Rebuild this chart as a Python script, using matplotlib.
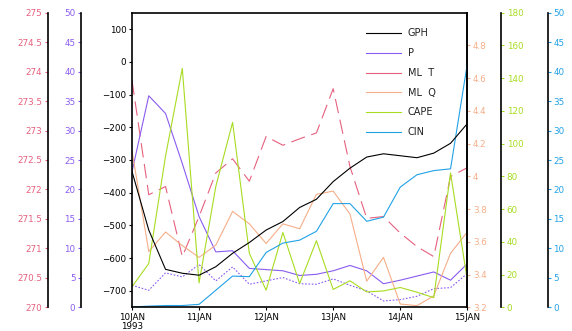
import matplotlib
matplotlib.use("Agg")
import matplotlib.pyplot as plt
import numpy as np
import pandas as pd
from matplotlib.ticker import FuncFormatter
from matplotlib.lines import Line2D

# ---------------- data (6-hourly, 10JAN1993 00Z .. 15JAN1993 00Z) ----------------
times = pd.date_range("1993-01-10 00:00", "1993-01-15 00:00", freq="6h")

gph = [-335, -514, -634, -646, -652, -626, -585, -552, -514, -488, -445,
       -420, -366, -325, -291, -281, -287, -293, -279, -249, -189]
p = [23.0, 35.9, 32.9, 24.4, 15.4, 9.4, 9.6, 6.6, 6.4, 6.2, 5.4,
     5.6, 6.2, 7.1, 6.2, 4.0, 4.6, 5.3, 6.0, 4.6, 7.4]
p_dotted = [3.74, 2.89, 5.84, 5.16, 7.26, 4.48, 6.86, 3.91, 4.48, 5.05, 4.0,
            3.91, 4.82, 3.74, 2.78, 1.08, 1.30, 1.87, 3.17, 3.34, 5.73]
ml_t = [273.85, 271.91, 272.05, 270.86, 271.54, 272.28, 272.52, 272.14, 272.90, 272.75, 272.86,
        272.96, 273.71, 272.39, 271.51, 271.54, 271.26, 271.03, 270.86, 272.22, 272.37]
ml_q = [4.155, 3.54, 3.66, 3.577, 3.505, 3.58, 3.786, 3.71, 3.59, 3.71, 3.68,
        3.89, 3.91, 3.77, 3.36, 3.505, 3.22, 3.21, 3.27, 3.53, 3.66]
cape = [12.5, 26.8, 92.4, 146, 14.9, 73.9, 113, 33, 10.4, 45.7, 14.5,
        40.7, 10.9, 16.2, 9.4, 10.0, 12.1, 9.2, 5.9, 82.1, 16.6]
cin = [0.06, 0.2, 0.3, 0.3, 0.5, 2.9, 5.3, 5.2, 9.3, 10.9, 11.4,
       12.9, 17.6, 17.6, 14.6, 15.3, 20.4, 22.5, 23.2, 23.5, 41.3]

day_ticks = pd.date_range("1993-01-10", "1993-01-15", freq="D")
day_labels = ["10JAN\n1993", "11JAN", "12JAN", "13JAN", "14JAN", "15JAN"]
legend_labels = ["GPH", "P", "ML  T", "ML  Q", "CAPE", "CIN"]

gph_ticks = [-700, -600, -500, -400, -300, -200, -100, 0, 100]
t_ticks = [270, 270.5, 271, 271.5, 272, 272.5, 273, 273.5, 274, 274.5, 275]
p_ticks = [0, 5, 10, 15, 20, 25, 30, 35, 40, 45, 50]
q_ticks = [3.2, 3.4, 3.6, 3.8, 4.0, 4.2, 4.4, 4.6, 4.8]
cape_ticks = [0, 20, 40, 60, 80, 100, 120, 140, 160, 180]
cin_ticks = [0, 5, 10, 15, 20, 25, 30, 35, 40, 45, 50]

# ---------------- style ----------------
C_GPH = "#000000"
C_P = "#8a5cf0"
C_T = "#e6607e"
C_Q = "#f5ae88"
C_CAPE = "#a8dc22"
C_CIN = "#22a2e6"
LW = 0.8
FS = 6.3

plt.rcParams["font.family"] = ["DejaVu Sans"]
plt.rcParams["font.size"] = FS

fig = plt.figure(figsize=(5.72, 3.31), dpi=100)
ax = fig.add_axes([132 / 572, (331 - 307.3) / 331, 335.3 / 572, (307.3 - 12.7) / 331])

for s in ax.spines.values():
    s.set_linewidth(1.2)

fmt = FuncFormatter(lambda v, pos: "%g" % v)


def make_side(pos, side, color, lim, ticks):
    a = ax.twinx()
    a.set_ylim(*lim)
    a.set_yticks(ticks)
    a.yaxis.set_major_formatter(fmt)
    for k in ["top", "bottom", "left", "right"]:
        a.spines[k].set_visible(False)
    a.spines[side].set_visible(True)
    a.spines[side].set_position(("axes", pos))
    a.spines[side].set_linewidth(1.2)
    a.spines[side].set_color("black")
    a.yaxis.set_ticks_position(side)
    a.yaxis.set_label_position(side)
    a.tick_params(axis="y", colors=color, length=2.5, width=0.8, labelsize=FS, pad=1.5)
    a.patch.set_visible(False)
    return a


ax_t = make_side(-0.2514, "left", C_T, (270, 275), t_ticks)
ax_p = make_side(-0.152, "left", C_P, (0, 50), p_ticks)
ax_q = make_side(1.0, "right", C_Q, (3.2, 5.0), q_ticks)
ax_cape = make_side(1.1005, "right", C_CAPE, (0, 180), cape_ticks)
ax_cin = make_side(1.2398, "right", C_CIN, (0, 50), cin_ticks)

# lines
ax.plot(times, gph, color=C_GPH, lw=LW)
ax_p.plot(times, p, color=C_P, lw=LW)
ax_p.plot(times, p_dotted, color=C_P, lw=LW, linestyle=(0, (1.5, 1.5)))
ax_t.plot(times, ml_t, color=C_T, lw=LW, dashes=(13, 6))
ax_q.plot(times, ml_q, color=C_Q, lw=LW)
ax_cape.plot(times, cape, color=C_CAPE, lw=LW)
ax_cin.plot(times, cin, color=C_CIN, lw=LW)

ax.set_xlim(times[0], times[-1])
ax.set_ylim(-750, 150)
ax.set_yticks(gph_ticks)
ax.set_xticks(day_ticks)
ax.set_xticklabels(day_labels, linespacing=0.95)
ax.tick_params(axis="y", length=2.5, width=0.8, labelsize=FS, pad=1.5)
ax.tick_params(axis="x", length=2.5, width=0.8, labelsize=FS, pad=1.5)
ax.set_zorder(ax_cin.get_zorder() + 1)
ax.patch.set_visible(False)

handles = [Line2D([], [], color=c, lw=LW) for c in [C_GPH, C_P, C_T, C_Q, C_CAPE, C_CIN]]
leg = fig.legend(handles, legend_labels, loc="upper left",
                 bbox_to_anchor=(366 / 572, 1 - 28.5 / 331),
                 frameon=False, fontsize=7, handlelength=3.57, handletextpad=0.72,
                 labelspacing=1.0, borderaxespad=0, borderpad=0)
for t in leg.get_texts():
    t.set_color("#222222")

fig.savefig("out.png", dpi=100)
